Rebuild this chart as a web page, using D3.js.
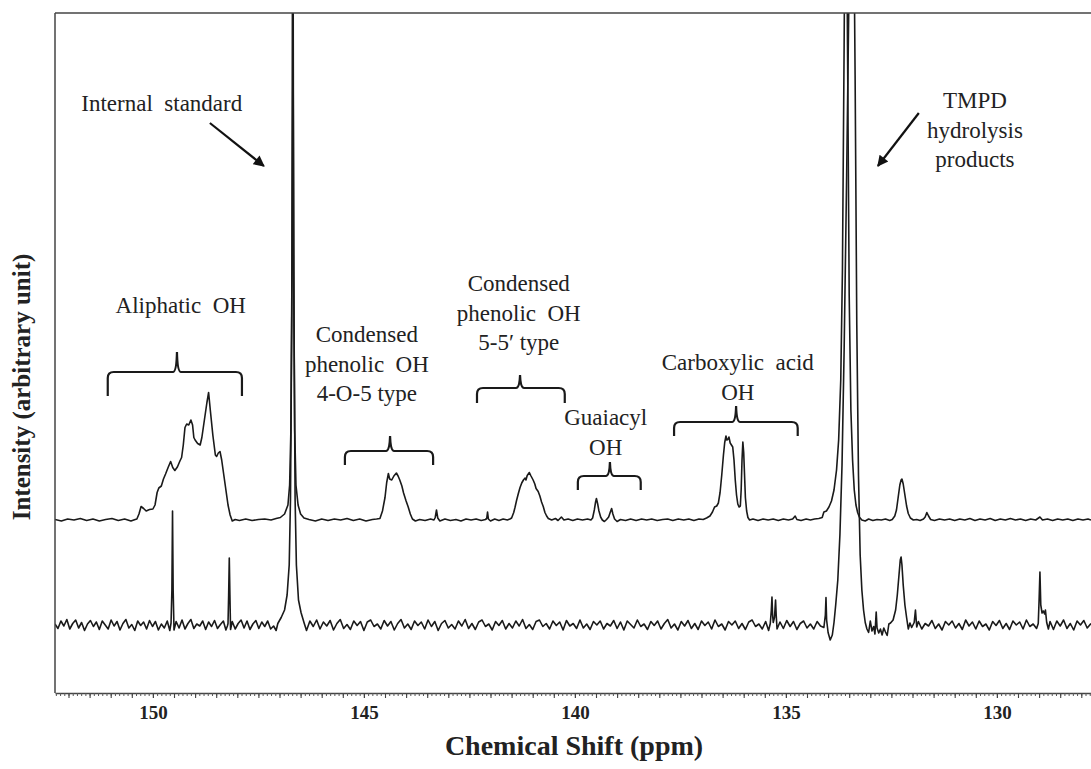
<!DOCTYPE html>
<html><head><meta charset="utf-8">
<script src="https://cdn.jsdelivr.net/npm/d3@7"></script>
<style>
body{margin:0;background:#fff}
text{font-family:"Liberation Serif","Times New Roman",serif;fill:#222;white-space:pre}
</style>
</head><body>
<svg id="chart" width="1091" height="769"></svg>
<script>
// ---------- DATA ----------
// Sample spectrum (upper trace): [ppm, intensity above its baseline]
const sampleSpectrum = [
[152.32,0.1],[152.17,-0.2],[152.02,0.2],[151.87,0.0],[151.72,0.3],[151.57,-0.1],[151.42,0.2],[151.27,-0.2],[151.12,0.1],[150.97,0.3],[150.82,-0.1],[150.67,0.2],[150.52,-0.2],[150.42,0.1],
[150.38,0.2],[150.33,1.2],[150.28,2.7],[150.22,2.3],[150.16,1.8],[150.08,2.1],[150.0,2.2],[149.95,3.0],[149.9,5.5],[149.86,6.4],[149.8,6.8],[149.75,8.2],[149.7,9.2],[149.64,10.5],[149.58,11.7],[149.53,10.5],[149.48,9.9],[149.42,10.6],[149.36,11.8],[149.32,12.5],[149.28,15],[149.24,18.5],[149.2,19.2],[149.15,19.0],[149.1,20.0],[149.06,19],[149.03,16.5],[149.0,16],[148.94,15.3],[148.88,15],[148.84,16.5],[148.78,20],[148.72,23.5],[148.68,25.5],[148.64,22],[148.58,17],[148.52,13],[148.49,12.7],[148.45,13.4],[148.41,13.7],[148.37,12],[148.32,9],[148.27,6],[148.22,3],[148.17,1],[148.12,-0.2],[148.05,0.1],
[147.95,-0.1],[147.8,0.2],[147.65,-0.1],[147.5,0.1],[147.35,0.2],[147.2,0.0],[147.08,0.3],
[146.98,0.5],[146.88,1.2],[146.8,3],[146.76,7],[146.73,18],[146.705,50],[146.685,150],[146.665,50],[146.64,18],[146.61,7],[146.56,3],[146.5,1.2],[146.42,0.4],
[146.3,0.1],[146.15,-0.2],[146.0,0.2],[145.85,-0.1],[145.7,0.2],[145.55,0.0],[145.4,0.3],[145.25,-0.1],[145.1,0.2],[144.95,-0.2],[144.8,0.1],[144.7,0.2],
[144.62,0.3],[144.56,1.8],[144.5,4.5],[144.46,7.5],[144.42,9.3],[144.39,8.2],[144.34,8.0],[144.29,8.8],[144.23,9.4],[144.19,8.8],[144.15,8],[144.1,6.8],[144.06,5.4],[144.0,3.8],[143.95,2.6],[143.9,1.2],[143.85,0.2],[143.78,-0.2],[143.68,0.1],[143.55,-0.1],[143.42,0.2],[143.34,0.0],
[143.31,0.5],[143.28,2.0],[143.25,0.4],[143.2,-0.2],[143.08,0.2],[142.95,-0.1],[142.82,0.1],[142.7,-0.2],[142.58,0.2],[142.46,0.0],[142.34,0.2],[142.22,-0.1],[142.12,0.1],
[142.09,0.3],[142.07,1.6],[142.05,0.2],[142.0,-0.2],[141.9,0.2],[141.8,-0.1],[141.7,0.2],[141.6,0.0],[141.54,0.2],
[141.5,0.4],[141.45,1.5],[141.42,2.5],[141.38,4.0],[141.34,5.3],[141.3,6.5],[141.26,7.4],[141.22,8.0],[141.18,8.4],[141.16,8.0],[141.13,8.9],[141.08,9.5],[141.04,8.8],[140.99,8.0],[140.95,7.2],[140.92,6.3],[140.87,5.7],[140.83,4.8],[140.79,3.6],[140.75,2.7],[140.71,1.5],[140.67,0.8],[140.63,0.3],[140.55,0.0],[140.46,0.3],[140.4,-0.1],[140.32,0.6],[140.26,0.0],[140.16,0.2],[140.05,-0.1],[139.94,0.2],[139.82,0.0],[139.7,0.2],[139.62,0.0],
[139.58,0.4],[139.54,2.0],[139.51,3.6],[139.49,4.3],[139.46,3.2],[139.43,1.8],[139.39,0.6],[139.35,0.0],[139.3,-0.3],[139.25,0.1],[139.2,0.6],[139.16,1.6],[139.13,2.3],[139.1,1.2],[139.06,0.2],[139.0,-0.3],[138.92,0.1],[138.8,-0.1],[138.68,0.2],[138.55,-0.1],[138.42,0.2],[138.3,0.0],[138.18,0.2],[138.05,-0.1],[137.92,0.1],[137.8,0.2],[137.68,-0.1],[137.55,0.2],[137.42,0.0],[137.3,0.2],[137.18,-0.1],[137.06,0.2],[136.96,0.1],
[136.88,0.4],[136.8,0.8],[136.74,1.6],[136.69,2.6],[136.64,2.8],[136.6,3.4],[136.56,5.5],[136.52,9],[136.48,13],[136.45,15.5],[136.42,16.8],[136.4,16.0],[136.37,16.2],[136.35,16.6],[136.32,15.4],[136.29,15.0],[136.26,14.6],[136.23,12],[136.2,8],[136.17,5],[136.14,3.2],[136.11,2.6],[136.08,2.8],[136.06,6],[136.04,12],[136.02,15.6],[136.0,13.5],[135.98,9],[135.96,4.5],[135.93,1.8],[135.9,0.5],[135.86,0.0],[135.78,0.2],[135.66,-0.1],[135.54,0.2],[135.42,0.0],[135.3,0.2],[135.18,-0.1],[135.06,0.2],[134.94,0.0],[134.84,0.2],[134.78,0.8],[134.74,0.1],[134.64,-0.1],[134.52,0.2],[134.42,0.0],[134.32,0.2],[134.22,0.3],
[134.14,0.5],[134.1,1.6],[134.04,1.8],[133.98,2.6],[133.92,3.8],[133.86,6],[133.8,10],[133.75,16],[133.7,28],[133.66,50],[133.62,95],[133.58,150],[133.54,95],[133.5,45],[133.46,22],[133.42,12],[133.38,6],[133.34,3],[133.3,1.5],[133.26,0.6],[133.2,0.0],[133.12,-0.2],[133.04,0.2],[132.94,-0.1],[132.84,0.1],[132.74,0.0],[132.64,0.2],[132.54,-0.1],
[132.48,0.1],[132.42,0.8],[132.38,2],[132.34,4.5],[132.3,7],[132.27,8.0],[132.25,8.2],[132.22,7.2],[132.18,5],[132.14,2.8],[132.1,1.3],[132.05,0.4],[131.98,0.0],[131.9,0.1],[131.82,-0.1],[131.74,0.2],
[131.7,0.6],[131.66,1.5],[131.62,0.8],[131.57,0.1],[131.48,-0.1],[131.36,0.2],[131.24,0.0],[131.12,0.2],[131.0,-0.1],[130.88,0.2],[130.76,0.0],[130.64,0.3],[130.52,-0.1],[130.4,0.2],[130.28,0.0],[130.16,0.3],[130.04,-0.1],[129.92,0.2],[129.8,0.0],[129.68,0.3],[129.56,0.0],[129.44,0.2],[129.32,-0.1],[129.2,0.2],[129.08,0.0],[128.98,0.6],[128.92,0.0],[128.8,0.2],[128.68,-0.1],[128.56,0.2],[128.44,0.0],[128.32,0.2],[128.2,-0.1],[128.08,0.2],[127.96,0.0],[127.84,0.2],[127.77,0.0]
];

// Blank / reference spectrum (lower trace)
const blankSpectrum = [
[152.32,0.2],[152.25,-0.7],[152.18,0.8],[152.11,-0.2],[152.04,1.1],[151.97,-0.8],[151.9,0.3],[151.83,1.0],[151.76,-0.6],[151.69,0.5],[151.62,-1.1],[151.55,0.2],[151.48,0.9],[151.41,-0.3],[151.34,0.6],[151.27,-0.9],[151.2,0.8],[151.13,0.0],[151.06,-0.8],[150.99,1.0],[150.92,-0.2],[150.85,0.7],[150.78,-1.0],[150.71,0.3],[150.64,1.1],[150.57,-0.6],[150.5,0.1],[150.43,-1.1],[150.36,0.8],[150.29,-0.1],[150.22,0.6],[150.15,-0.8],[150.08,0.9],[150.01,-0.3],[149.94,0.7],[149.87,-1.0],[149.8,0.2],[149.73,-0.6],[149.66,0.8],[149.6,-1.1],
[149.57,0.4],[149.55,7],[149.535,22.8],[149.52,7],[149.5,-1.0],
[149.45,0.7],[149.38,-0.6],[149.31,1.0],[149.24,-0.8],[149.17,0.3],[149.1,1.1],[149.03,-0.7],[148.96,0.2],[148.89,-0.2],[148.82,0.8],[148.75,-0.9],[148.68,0.6],[148.61,-0.3],[148.54,0.9],[148.47,-0.7],[148.4,0.1],[148.33,0.8],[148.27,-1.0],[148.235,-0.2],
[148.22,0.3],[148.205,6],[148.19,13.4],[148.175,6],[148.16,-0.9],
[148.12,0.7],[148.05,-0.8],[147.98,0.3],[147.91,1.0],[147.84,-0.6],[147.77,0.8],[147.7,-0.9],[147.63,0.2],[147.56,0.9],[147.49,-0.7],[147.42,0.6],[147.35,-0.3],[147.28,0.8],[147.21,-0.8],[147.14,-0.2],[147.08,-1.1],
[147.04,0.3],[146.96,1.5],[146.88,3],[146.82,6],[146.77,12],[146.74,25],[146.71,60],[146.68,117],[146.655,60],[146.63,25],[146.6,12],[146.55,5],[146.49,2.5],[146.42,0.5],[146.36,-1.1],
[146.28,0.8],[146.2,-0.3],[146.12,1.0],[146.04,-0.8],[145.96,0.6],[145.88,-0.2],[145.8,0.9],[145.72,-1.0],[145.64,0.3],[145.56,1.1],[145.48,-0.7],[145.4,0.1],[145.32,-0.9],[145.24,0.8],[145.16,-0.1],[145.08,0.7],[145.0,-1.1],[144.92,0.6],[144.84,1.0],[144.76,-0.3],[144.68,0.2],[144.6,-0.8],[144.52,0.9],[144.44,-0.2],[144.36,0.7],[144.28,-1.0],[144.2,0.3],[144.12,1.1],[144.04,-0.6],[143.96,0.2],[143.88,-0.9],[143.8,0.8],[143.72,-0.1],[143.64,0.6],[143.56,-0.8],[143.48,1.0],[143.4,-0.3],[143.32,0.7],[143.24,-1.1],[143.16,0.3],[143.08,0.9],[143.0,-0.6],[142.92,0.1],[142.84,-0.8],[142.76,0.8],[142.68,-0.2],[142.6,1.1],[142.52,-0.7],[142.44,0.3],[142.36,-0.9],[142.28,0.6],[142.2,1.0],[142.12,-0.3],[142.04,0.2],[141.96,-1.0],[141.88,0.7],[141.8,-0.1],[141.72,0.9],[141.64,-0.8],[141.56,0.3],[141.48,-0.6],[141.4,0.8],[141.32,-0.2],[141.24,1.1],[141.16,-0.7],[141.08,0.1],[141.0,-0.9],[140.92,0.7],[140.84,1.0],[140.76,-0.3],[140.68,0.3],[140.6,-0.8],[140.52,0.8],[140.44,-0.1],[140.36,0.6],[140.28,-1.0],[140.2,0.9],[140.12,-0.2],[140.04,0.3],[139.96,-0.7],[139.88,1.0],[139.8,-0.6],[139.72,0.2],[139.64,-0.9],[139.56,0.7],[139.48,0.0],[139.4,0.8],[139.32,-0.8],[139.24,0.3],[139.16,-0.2],[139.08,0.9],[139.0,-0.7],[138.92,0.6],[138.84,-1.0],[138.76,0.8],[138.68,0.1],[138.6,-0.6],[138.52,1.0],[138.44,-0.3],[138.36,0.2],[138.28,-0.9],[138.2,0.7],[138.12,-0.1],[138.04,0.8],[137.96,-0.8],[137.88,0.3],[137.8,1.1],[137.72,-0.6],[137.64,0.2],[137.56,-1.0],[137.48,0.7],[137.4,-0.2],[137.32,0.9],[137.24,-0.7],[137.16,0.3],[137.08,-0.9],[137.0,0.8],[136.92,-0.1],[136.84,0.6],[136.76,-0.8],[136.68,1.0],[136.6,-0.3],[136.52,0.2],[136.44,-1.0],[136.36,0.7],[136.28,0.0],[136.2,0.8],[136.12,-0.7],[136.04,0.3],[135.96,-0.9],[135.88,0.6],[135.8,1.0],[135.72,-0.3],[135.64,0.2],[135.56,-0.8],[135.48,0.7],[135.41,-1.1],
[135.37,0.3],[135.345,3],[135.33,5.6],[135.315,2],[135.3,0.5],[135.27,1.5],[135.245,5],[135.23,2],[135.21,-0.8],
[135.14,0.6],[135.06,-0.7],[134.98,0.9],[134.9,-0.3],[134.82,0.7],[134.74,-0.9],[134.66,0.3],[134.58,0.8],[134.5,-0.6],[134.42,0.2],[134.34,-0.8],[134.26,0.7],[134.18,-0.2],[134.1,-0.5],
[134.065,2],[134.05,5.5],[134.035,1],[134.0,-1.5],[133.95,-3],[133.9,-2],[133.86,0.5],[133.82,4],[133.77,9],[133.72,18],[133.67,32],[133.62,55],[133.56,90],[133.5,130],[133.44,150],[133.4,150],[133.36,110],[133.32,60],[133.28,30],[133.24,14],[133.2,7],[133.16,3],[133.12,0.5],[133.08,-0.8],[133.04,-1.5],[133.0,0.8],[132.96,-1.2],[132.92,-0.3],[132.89,-1.8],[132.86,2.6],[132.84,-0.6],[132.8,-1.6],[132.76,-0.8],[132.72,-2.0],[132.68,-0.6],[132.64,-1.4],[132.6,-2.1],[132.56,0.2],
[132.52,0.4],[132.46,1],[132.4,3],[132.36,6],[132.32,10],[132.29,13],[132.27,13.6],[132.25,12],[132.22,8],[132.18,4],[132.14,1.5],[132.1,-0.8],[132.06,0.4],[132.02,-0.5],
[131.96,0.5],[131.93,3.0],[131.9,-0.4],
[131.86,0.7],[131.78,-0.8],[131.7,0.3],[131.62,-0.2],[131.54,0.9],[131.46,-0.7],[131.38,0.2],[131.3,-1.0],[131.22,0.7],[131.14,0.0],[131.06,0.8],[130.98,-0.6],[130.9,0.3],[130.82,-0.9],[130.74,1.0],[130.66,-0.2],[130.58,0.6],[130.5,-0.8],[130.42,0.8],[130.34,-0.3],[130.26,0.2],[130.18,-1.0],[130.1,0.7],[130.02,-0.1],[129.94,0.9],[129.86,-0.7],[129.78,0.3],[129.7,-0.9],[129.62,0.8],[129.54,0.0],[129.46,0.6],[129.38,-0.8],[129.3,1.0],[129.22,-0.3],[129.14,0.2],[129.06,-0.7],
[129.02,0.3],[129.0,5],[128.98,10.6],[128.96,4],[128.93,2.4],[128.9,2.8],[128.87,2.2],[128.85,3.0],[128.82,0.5],[128.78,-0.8],
[128.74,0.7],[128.66,-0.9],[128.58,0.8],[128.5,-0.2],[128.42,1.0],[128.34,-0.7],[128.26,0.3],[128.18,-1.0],[128.1,0.8],[128.02,0.0],[127.94,0.9],[127.86,-0.6],[127.77,0.3]
];

// vertical offsets (stacking) of the two traces, in intensity units
const sampleOffset = 34.6;
const blankOffset = 13.6;

// axis
const xDomain = [152.32, 127.77];
const yDomain = [0, 136];
const tickLabels = [150, 145, 140, 135, 130];
const xTitle = "Chemical Shift (ppm)";
const yTitle = "Intensity (arbitrary unit)";

// annotations: text lines, label center (ppm), bracket range (ppm)
const bracketLabels = [
  {lines:["Aliphatic  OH"], c:149.34, y0:313, from:151.07, to:147.89, tip:149.43, yl:372, ye:396, yt:352},
  {lines:["Condensed","phenolic  OH","4-O-5 type"], c:144.93, y0:342, from:145.45, to:143.36, tip:144.38, yl:451, ye:465, yt:436},
  {lines:["Condensed","phenolic  OH","5-5\u2032 type"], c:141.33, y0:291, from:142.32, to:140.24, tip:141.30, yl:388, ye:403, yt:375},
  {lines:["Guaiacyl","OH"], c:139.27, y0:425, from:139.93, to:138.44, tip:139.17, yl:476, ye:490, yt:462},
  {lines:["Carboxylic  acid","OH"], c:136.14, y0:370, from:137.65, to:134.72, tip:136.18, yl:422, ye:436, yt:406}
];
const arrowLabels = [
  {lines:["Internal  standard"], c:149.79, y0:111, ax1:148.65, ay1:123, ax2:147.37, ay2:166},
  {lines:["TMPD","hydrolysis","products"], c:130.52, y0:108, ax1:131.85, ay1:113, ax2:132.82, ay2:166}
];

// ---------- DRAW ----------
const svg = d3.select("#chart");
const L = 55, T = 13, R = 1091, B = 693;
const x = d3.scaleLinear().domain(xDomain).range([L, R]);
const y = d3.scaleLinear().domain(yDomain).range([B, T]);

svg.append("defs").append("clipPath").attr("id","plotclip")
  .append("rect").attr("x",L).attr("y",T).attr("width",R-L).attr("height",B-T);
const marker = svg.select("defs").append("marker").attr("id","arr")
  .attr("viewBox","0 0 10 10").attr("refX",9).attr("refY",5)
  .attr("markerWidth",6).attr("markerHeight",5).attr("orient","auto")
  .attr("markerUnits","strokeWidth");
marker.append("path").attr("d","M0,0 L10,5 L0,10 z").attr("fill","#111");

const plot = svg.append("g").attr("clip-path","url(#plotclip)");
const mkLine = off => d3.line().x(d=>x(d[0])).y(d=>y(d[1]+off));
plot.append("path").datum(blankSpectrum).attr("d", mkLine(blankOffset))
  .attr("fill","none").attr("stroke","#1a1a1a").attr("stroke-width",1.6).attr("stroke-linejoin","round");
plot.append("path").datum(sampleSpectrum).attr("d", mkLine(sampleOffset))
  .attr("fill","none").attr("stroke","#1a1a1a").attr("stroke-width",1.6).attr("stroke-linejoin","round");

// frame
svg.append("line").attr("x1",L).attr("x2",L).attr("y1",T).attr("y2",B).attr("stroke","#444").attr("stroke-width",1.5);
svg.append("line").attr("x1",L).attr("x2",R).attr("y1",T).attr("y2",T).attr("stroke","#444").attr("stroke-width",1.5);

// x axis ticks
const minor = d3.range(1278, 1524).map(v => v/10);
const half = minor.filter(v => Math.abs(v*2 - Math.round(v*2)) < 1e-6);
const gMinor = svg.append("g").attr("transform",`translate(0,${B})`)
  .call(d3.axisBottom(x).tickValues(minor).tickSize(3).tickSizeOuter(0).tickFormat(""));
gMinor.select(".domain").attr("stroke","#444").attr("stroke-width",1.5);
gMinor.selectAll(".tick line").attr("stroke","#555").attr("stroke-width",1);
const gHalf = svg.append("g").attr("transform",`translate(0,${B})`)
  .call(d3.axisBottom(x).tickValues(half).tickSize(5).tickFormat(""));
gHalf.select(".domain").remove();
gHalf.selectAll(".tick line").attr("stroke","#444").attr("stroke-width",1.1);
const gLab = svg.append("g").attr("transform",`translate(0,${B})`)
  .call(d3.axisBottom(x).tickValues(tickLabels).tickSize(5).tickPadding(8).tickFormat(d3.format("d")));
gLab.select(".domain").remove();
gLab.selectAll(".tick line").attr("stroke","#444");
gLab.selectAll("text").attr("font-family","'Liberation Serif',serif").attr("font-weight","bold")
  .attr("font-size","19px").attr("fill","#222");

// axis titles
svg.append("text").attr("x",574).attr("y",755).attr("text-anchor","middle")
  .attr("font-weight","bold").attr("font-size","28px").text(xTitle);
svg.append("text").attr("transform","translate(30,387) rotate(-90)").attr("text-anchor","middle")
  .attr("font-weight","bold").attr("font-size","25px").text(yTitle);

// annotations
const lineGap = 29.5;
function drawLines(a){
  const t = svg.append("text").attr("text-anchor","middle").attr("font-size","23px");
  a.lines.forEach((s,i)=> t.append("tspan").attr("x",x(a.c)).attr("y",a.y0+i*lineGap).text(s));
}
bracketLabels.forEach(a=>{
  drawLines(a);
  const x1=x(a.from), x2=x(a.to), xt=x(a.tip), r=6;
  const p = `M${x1},${a.ye} L${x1},${a.yl+r} Q${x1},${a.yl} ${x1+r},${a.yl} L${xt-4},${a.yl} Q${xt-0.5},${a.yl} ${xt},${a.yt} Q${xt+0.5},${a.yl} ${xt+4},${a.yl} L${x2-r},${a.yl} Q${x2},${a.yl} ${x2},${a.yl+r} L${x2},${a.ye}`;
  svg.append("path").attr("d",p).attr("fill","none").attr("stroke","#1a1a1a").attr("stroke-width",2.2);
});
arrowLabels.forEach(a=>{
  drawLines(a);
  svg.append("line").attr("x1",x(a.ax1)).attr("y1",a.ay1).attr("x2",x(a.ax2)).attr("y2",a.ay2)
    .attr("stroke","#111").attr("stroke-width",2.2).attr("marker-end","url(#arr)");
});
</script>
</body></html>
